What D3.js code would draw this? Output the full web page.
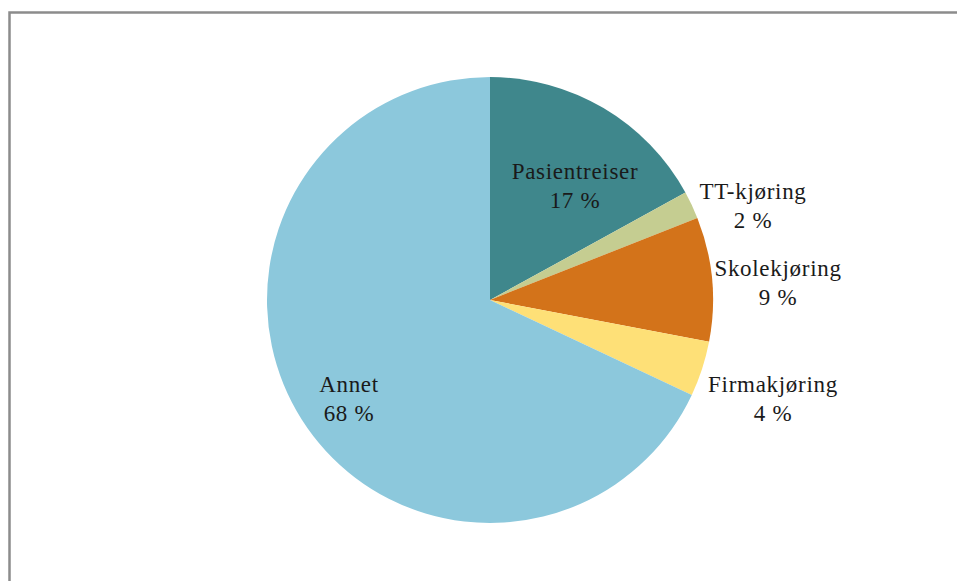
<!DOCTYPE html>
<html>
<head>
<meta charset="utf-8">
<script src="https://cdn.jsdelivr.net/npm/d3@7"></script>
<style>
  html, body { margin: 0; padding: 0; background: #fff; }
  svg { display: block; }
  text.lbl { font-family: "Liberation Serif", "DejaVu Serif", serif; }
</style>
</head>
<body>
<svg id="chart" width="957" height="581"></svg>
<script>
// Trip categories and their shares (percent)
const categories = ["Pasientreiser", "TT-kjøring", "Skolekjøring", "Firmakjøring", "Annet"];
const shares = [17, 2, 9, 4, 68];
const colors = ["#3F878C", "#C5CD91", "#D3731A", "#FEE077", "#8CC8DC"];

const width = 957, height = 581;
const cx = 490, cy = 300, radius = 223;

// Label anchors (centre of the two-line label), relative to the pie centre
const labelAnchors = [
  [85, -115],
  [263, -95],
  [288, -18],
  [283, 98],
  [-141, 98]
];

const svg = d3.select("#chart");

// Outer frame
svg.append("path")
  .attr("d", `M9.5,${height} V12.5 H${width}`)
  .attr("fill", "none")
  .attr("stroke", "#8c8c8c")
  .attr("stroke-width", 2.5);

const data = categories.map((c, i) => ({ name: c, value: shares[i], color: colors[i] }));

const pie = d3.pie()
  .value(d => d.value)
  .sort(null)
  .startAngle(0)
  .endAngle(2 * Math.PI);

const arc = d3.arc().innerRadius(0).outerRadius(radius);

const g = svg.append("g").attr("transform", `translate(${cx},${cy})`);

const arcs = pie(data);

g.selectAll("path.slice")
  .data(arcs)
  .join("path")
  .attr("class", "slice")
  .attr("d", arc)
  .attr("fill", d => d.data.color);

const fmt = v => `${d3.format("d")(v)} %`;
const lineH = 29;

const labels = g.selectAll("text.lbl")
  .data(arcs)
  .join("text")
  .attr("class", "lbl")
  .attr("text-anchor", "middle")
  .attr("font-size", 23)
  .attr("letter-spacing", 0.7)
  .attr("fill", "#1a1a1a")
  .attr("transform", (d, i) => `translate(${labelAnchors[i][0]},${labelAnchors[i][1]})`);

labels.append("tspan")
  .attr("x", 0)
  .attr("y", -lineH / 2 + 8)
  .text(d => d.data.name);

labels.append("tspan")
  .attr("x", 0)
  .attr("y", lineH / 2 + 8)
  .text(d => fmt(d.data.value));
</script>
</body>
</html>
